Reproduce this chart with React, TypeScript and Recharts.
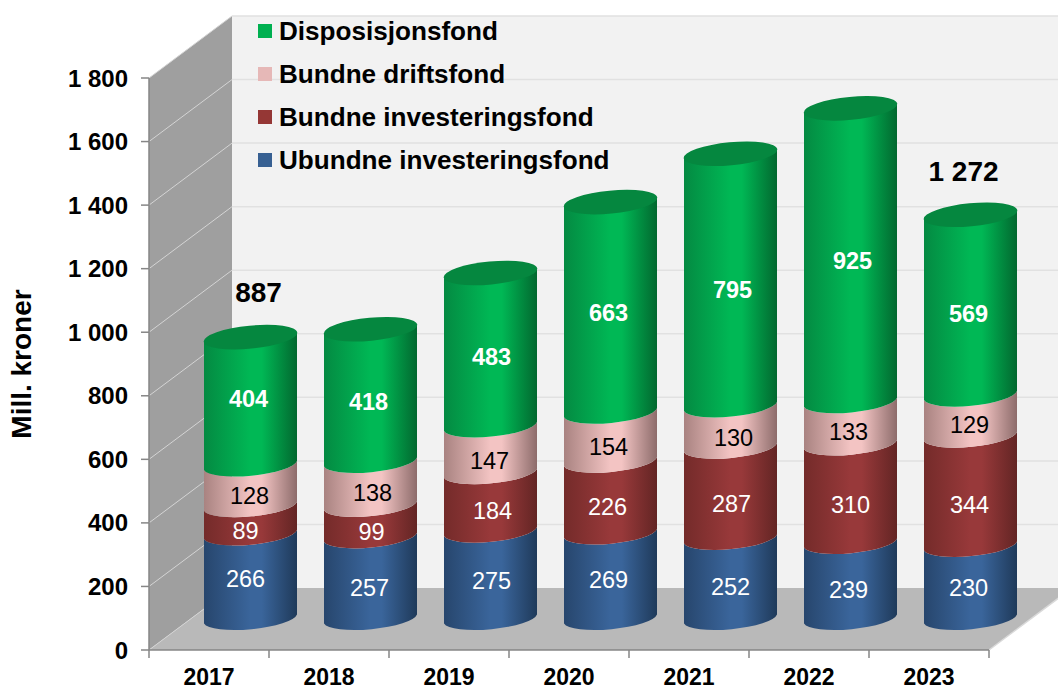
import React from 'react';
import { BarChart, Bar, XAxis, YAxis, LabelList, Legend, ReferenceArea } from 'recharts';

const YEARS = ['2017', '2018', '2019', '2020', '2021', '2022', '2023'];
const UBUNDNE_INV = [266, 257, 275, 269, 252, 239, 230];
const BUNDNE_INV = [89, 99, 184, 226, 287, 310, 344];
const BUNDNE_DRIFT = [128, 138, 147, 154, 130, 133, 129];
const DISPOSISJON = [404, 418, 483, 663, 795, 925, 569];
const TOTAL_LABELS = ['887', '', '', '', '', '', '1 272'];
const Y_TICKS = [0, 200, 400, 600, 800, 1000, 1200, 1400, 1600, 1800];

const LEGEND_ITEMS = [
  { name: 'Disposisjonsfond', color: '#00B050' },
  { name: 'Bundne driftsfond', color: '#E6B8B7' },
  { name: 'Bundne investeringsfond', color: '#953735' },
  { name: 'Ubundne investeringsfond', color: '#376092' },
];

const data = YEARS.map((year, i) => ({
  year,
  ubundne: UBUNDNE_INV[i],
  bundneInv: BUNDNE_INV[i],
  drift: BUNDNE_DRIFT[i],
  disp: DISPOSISJON[i],
  total: TOTAL_LABELS[i],
}));

// 3D look: bars sit further back on the floor than the axis plane
const DEPTH_X = 83;
const DEPTH_Y = 62;
const BAR_DX = 41;
const BAR_DY = -31;
const RX = 47;
const RY = 11.5;
const TILT = -5.5;
const SLOPE = 4.5;
const FONT = 'Liberation Sans, Arial, sans-serif';

// the labels were placed by hand in the original, so each one gets a small nudge [dx, dy]
const NUDGE_BLUE = [[-3, -6], [1, 2], [3, -2], [0, -4], [2, 0], [0, 1], [0, -2]];
const NUDGE_RED = [[-3, 3], [3, 2], [4, 1], [-1, 1], [3, 3], [2, 3], [1, 6]];
const NUDGE_PINK = [[1, 2], [4, 1], [1, 3], [0, 2], [5, 3], [0, 1], [1, 1]];
const NUDGE_GREEN = [[0, -10], [0, -2], [3, -1], [0, -2], [4, 2], [4, -2], [0, 1]];

const GRADIENTS = [
  { id: 'gBlue', stops: ['#27466d', '#3a659b', '#3a659b', '#1f3a5a'] },
  { id: 'gRed', stops: ['#742b2a', '#98393a', '#98393a', '#632524'] },
  { id: 'gPink', stops: ['#a98381', '#f3c4c3', '#f3c4c3', '#8d6c6b'] },
  { id: 'gGreen', stops: ['#048a42', '#00b855', '#00b855', '#02682f'] },
];

function Walls(props: any) {
  const { x, y, width, height } = props;
  const bottom = y + height;
  const right = x + width;
  const yOf = (v: number) => bottom - (v / 1800) * height;
  return (
    <g>
      <defs>
        {GRADIENTS.map((g) => (
          <linearGradient key={g.id} id={g.id} x1="0" y1="0" x2="1" y2="0">
            <stop offset="0" stopColor={g.stops[0]} />
            <stop offset="0.5" stopColor={g.stops[1]} />
            <stop offset="0.62" stopColor={g.stops[2]} />
            <stop offset="1" stopColor={g.stops[3]} />
          </linearGradient>
        ))}
      </defs>
      <rect x={x + DEPTH_X} y={y - DEPTH_Y} width={width} height={height} fill="#F2F2F2" />
      <polygon
        points={`${x},${y} ${x + DEPTH_X},${y - DEPTH_Y} ${x + DEPTH_X},${bottom - DEPTH_Y} ${x},${bottom}`}
        fill="#9F9F9F"
      />
      <polygon
        points={`${x},${bottom} ${x + DEPTH_X},${bottom - DEPTH_Y} ${right + DEPTH_X},${bottom - DEPTH_Y} ${right},${bottom}`}
        fill="#B9B9B9"
      />
      {Y_TICKS.filter((v) => v > 0).map((v) => (
        <g key={v}>
          <line x1={x} y1={yOf(v)} x2={x + DEPTH_X} y2={yOf(v) - DEPTH_Y} stroke="#D4D4D4" strokeWidth={1} />
          <line x1={x + DEPTH_X} y1={yOf(v) - DEPTH_Y} x2={right + DEPTH_X} y2={yOf(v) - DEPTH_Y} stroke="#E1E1E1" strokeWidth={1.5} />
        </g>
      ))}
      <line x1={x} y1={bottom} x2={x + DEPTH_X} y2={bottom - DEPTH_Y} stroke="#D4D4D4" strokeWidth={1} />
      <line x1={right} y1={bottom} x2={right + DEPTH_X} y2={bottom - DEPTH_Y} stroke="#D9D9D9" strokeWidth={1.5} />
    </g>
  );
}

// one piece of a cylinder, with the front arc as its top and bottom edge
const cylinder = (grad: string, cap?: boolean) => (props: any) => {
  const { x, y, width, height } = props;
  const l = x + BAR_DX;
  const r = l + width;
  const top = y + BAR_DY;
  const bot = top + height;
  const d =
    `M${l},${top + SLOPE} A${RX},${RY} ${TILT} 0 0 ${r},${top - SLOPE} ` +
    `L${r},${bot - SLOPE} A${RX},${RY} ${TILT} 0 1 ${l},${bot + SLOPE} Z`;
  return (
    <g>
      <path d={d} fill={`url(#${grad})`} />
      {cap && (
        <ellipse
          cx={l + width / 2}
          cy={top}
          rx={RX}
          ry={RY}
          transform={`rotate(${TILT} ${l + width / 2} ${top})`}
          fill="#05873F"
        />
      )}
    </g>
  );
};

const segmentLabel = (color: string, bold: boolean, nudge: number[][]) => (props: any) => {
  const { x, y, width, height, value, index } = props;
  return (
    <text
      x={x + BAR_DX + width / 2 - 2 + nudge[index][0]}
      y={y + BAR_DY + height / 2 + 8 + nudge[index][1]}
      textAnchor="middle"
      dominantBaseline="central"
      fill={color}
      fontFamily={FONT}
      fontSize={23.5}
      fontWeight={bold ? 700 : 400}
    >
      {value}
    </text>
  );
};

const totalLabel = (props: any) => {
  const { x, y, width, value, index } = props;
  if (!value) return null;
  return (
    <text
      x={x + BAR_DX + width / 2 + (index === 0 ? 8 : -7)}
      y={y + BAR_DY - (index === 0 ? 45 : 43)}
      textAnchor="middle"
      dominantBaseline="central"
      fill="#000"
      fontFamily={FONT}
      fontSize={28}
      fontWeight={700}
    >
      {value}
    </text>
  );
};

function YearTick(props: any) {
  const { x, y, payload, index } = props;
  const half = 60;
  const last = index === YEARS.length - 1;
  return (
    <g>
      <line x1={x - half} y1={y} x2={x - half} y2={y + 8} stroke="#868686" strokeWidth={1.5} />
      {last && <line x1={x + half} y1={y} x2={x + half} y2={y + 8} stroke="#868686" strokeWidth={1.5} />}
      <text x={x} y={y + 27} textAnchor="middle" dominantBaseline="central" fontFamily={FONT} fontSize={23} fontWeight={700} fill="#000">
        {payload.value}
      </text>
    </g>
  );
}

function FondLegend() {
  return (
    <div style={{ fontFamily: FONT, fontWeight: 700, fontSize: 26.1, color: '#000' }}>
      {LEGEND_ITEMS.map((item) => (
        <div key={item.name} style={{ height: 43, display: 'flex', alignItems: 'center', whiteSpace: 'nowrap' }}>
          <span style={{ width: 14, height: 14, background: item.color, marginRight: 7, display: 'inline-block' }} />
          {item.name}
        </div>
      ))}
    </div>
  );
}

export default function App() {
  return (
    <div style={{ position: 'absolute', left: 0, top: 0, width: 1058, height: 686, overflow: 'hidden', background: '#fff' }}>
      <BarChart
        width={1058}
        height={686}
        data={data}
        barSize={93}
        margin={{ top: 78, right: 69, left: 0, bottom: 0 }}
      >
        <ReferenceArea y1={0} y2={1800} ifOverflow="visible" shape={Walls} />
        <XAxis
          dataKey="year"
          height={36}
          axisLine={{ stroke: '#868686', strokeWidth: 1.5 }}
          tickLine={false}
          tickSize={0}
          tickMargin={0}
          tick={YearTick}
          interval={0}
        />
        <YAxis
          width={149}
          domain={[0, 1800]}
          ticks={Y_TICKS}
          interval={0}
          axisLine={{ stroke: '#868686', strokeWidth: 1.5 }}
          tickLine={{ stroke: '#868686', strokeWidth: 1.5 }}
          tickSize={8}
          tickMargin={13}
          tickFormatter={(v: number) => (v >= 1000 ? `${Math.floor(v / 1000)} ${String(v % 1000).padStart(3, '0')}` : String(v))}
          tick={{ fontFamily: FONT, fontSize: 24, fontWeight: 700, fill: '#000' }}
          label={{
            value: 'Mill. kroner',
            angle: -90,
            position: 'insideLeft',
            dx: 16,
            textAnchor: 'middle',
            style: { fontFamily: FONT, fontSize: 28, fontWeight: 700, fill: '#000' },
          }}
        />
        <Legend
          layout="vertical"
          align="center"
          verticalAlign="middle"
          content={FondLegend}
          wrapperStyle={{ left: 258, top: 9.5, width: 400, height: 172 }}
        />
        <Bar dataKey="ubundne" stackId="a" isAnimationActive={false} shape={cylinder('gBlue')}>
          <LabelList dataKey="ubundne" content={segmentLabel('#fff', false, NUDGE_BLUE)} />
        </Bar>
        <Bar dataKey="bundneInv" stackId="a" isAnimationActive={false} shape={cylinder('gRed')}>
          <LabelList dataKey="bundneInv" content={segmentLabel('#fff', false, NUDGE_RED)} />
        </Bar>
        <Bar dataKey="drift" stackId="a" isAnimationActive={false} shape={cylinder('gPink')}>
          <LabelList dataKey="drift" content={segmentLabel('#000', false, NUDGE_PINK)} />
        </Bar>
        <Bar dataKey="disp" stackId="a" isAnimationActive={false} shape={cylinder('gGreen', true)}>
          <LabelList dataKey="disp" content={segmentLabel('#fff', true, NUDGE_GREEN)} />
          <LabelList dataKey="total" content={totalLabel} />
        </Bar>
      </BarChart>
    </div>
  );
}
